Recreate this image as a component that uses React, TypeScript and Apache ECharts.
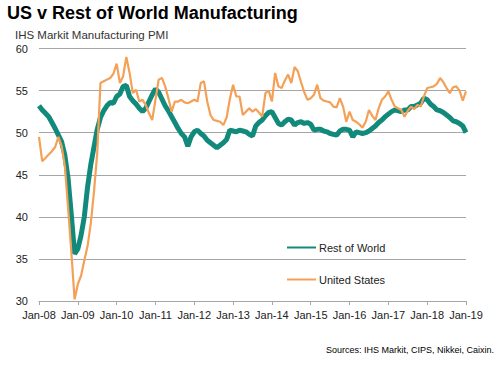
import React, { useEffect, useRef } from "react";
import * as echarts from "echarts";

const MONTHS = ["Jan", "Feb", "Mar", "Apr", "May", "Jun", "Jul", "Aug", "Sep", "Oct", "Nov", "Dec"];
const YEARS = ["08", "09", "10", "11", "12", "13", "14", "15", "16", "17", "18", "19"];
const categories: string[] = [];
YEARS.forEach((y) => MONTHS.forEach((m) => categories.push(`${m}-${y}`)));
categories.length = 133; // Jan-08 .. Jan-19

const restOfWorld = [
  53.2, 52.7, 52.3, 51.9, 51.2, 50.5, 49.7, 48.9, 47.3, 44.5, 40.2, 35.6,
  36.2, 37.8, 40.0, 43.5, 46.2, 48.3, 50.4, 51.8, 52.6, 53.2, 53.6, 53.5,
  54.3, 54.6, 55.5, 55.6, 54.3, 53.8, 53.4, 52.9, 52.5, 52.9, 53.7, 54.5,
  55.2, 54.8, 54.0, 53.2, 52.6, 51.9, 51.2, 50.5, 49.9, 49.5, 48.4, 49.5,
  50.1, 50.3, 49.9, 49.6, 49.1, 48.8, 48.5, 48.2, 48.5, 48.8, 49.2, 50.3,
  50.2, 50.1, 50.3, 50.2, 50.1, 49.8, 49.6, 50.8, 51.2, 51.5, 52.0, 52.4,
  52.5, 51.8, 51.1, 50.9, 51.3, 51.6, 51.5, 50.9, 51.2, 51.3, 51.1, 51.2,
  51.0, 50.3, 50.4, 50.4, 50.2, 50.1, 49.9, 49.8, 49.7, 50.2, 50.4, 50.4,
  50.3, 49.5, 50.1, 50.0, 49.9, 50.0, 50.2, 50.5, 50.8, 51.2, 51.5, 51.9,
  52.2, 52.5, 52.7, 52.6, 52.5, 52.7, 52.7, 53.1, 53.1, 53.3, 53.5, 54.1,
  53.9, 53.4, 53.1, 52.7, 52.6, 52.4, 52.1, 51.8, 51.4, 51.3, 51.1, 50.8,
  50.0,
];

const unitedStates = [
  49.5, 46.6, 47.0, 47.4, 47.8, 48.3, 49.5, 48.4, 46.0, 41.0, 35.8, 30.2,
  32.0, 33.0, 34.8, 36.5, 39.2, 43.0, 47.6, 55.9, 56.1, 56.3, 56.5, 57.0,
  58.2, 55.9, 56.7, 59.0, 57.1, 54.7, 55.1, 53.7, 53.9, 53.3, 52.3, 51.5,
  53.9, 56.3, 56.5, 55.5, 54.1, 52.5, 53.7, 53.7, 53.9, 53.6, 53.5, 53.7,
  53.9, 53.7, 55.9, 56.1, 53.7, 52.1, 51.5, 51.4, 51.3, 50.9, 51.8, 54.0,
  55.7, 54.3, 54.3, 52.1, 52.5, 52.9, 52.5, 52.8, 52.4, 51.9, 54.7, 55.0,
  53.7, 57.1, 55.5, 55.3, 56.2, 56.9, 55.9, 57.8, 57.3, 56.0, 54.8, 53.9,
  54.1, 54.5, 55.7, 54.1, 53.8, 53.7, 53.6, 53.1, 53.0, 54.1, 53.1, 51.3,
  52.5, 51.5, 51.3, 51.0, 50.6, 51.3, 52.7, 52.0, 51.5, 52.9, 53.9, 54.3,
  54.9, 53.9, 53.1, 52.9, 52.7, 51.9, 52.6, 53.1, 52.8, 53.3, 53.1, 54.3,
  55.3, 55.4, 55.5, 55.8, 56.5, 56.0, 55.3, 54.7, 55.4, 55.5, 55.0, 53.8,
  54.9,
];

const TITLE = "US v Rest of World Manufacturing";
const SUBTITLE = "IHS Markit Manufacturing PMI";
const SOURCE = "Sources: IHS Markit, CIPS, Nikkei, Caixin.";

const FONT = "'Liberation Sans', Arial, sans-serif";
const TEAL = "#128a7b";
const ORANGE = "#f5a057";
const GRID = "#a6a6a6";

export default function App() {
  const ref = useRef<HTMLDivElement>(null);
  useEffect(() => {
    if (!ref.current) return;
    const chart = echarts.init(ref.current, undefined, { renderer: "svg" });
    chart.setOption({
      animation: false,
      backgroundColor: "#ffffff",
      textStyle: { fontFamily: FONT },
      title: [
        {
          text: TITLE,
          left: 7,
          top: 4,
          padding: 0,
          textStyle: { fontFamily: FONT, fontSize: 18, fontWeight: "bold", color: "#000" },
        },
        {
          text: SUBTITLE,
          left: 15,
          top: 29,
          padding: 0,
          textStyle: { fontFamily: FONT, fontSize: 11.5, fontWeight: "normal", color: "#333" },
        },
        {
          text: SOURCE,
          right: 8,
          top: 345,
          padding: 0,
          textStyle: { fontFamily: FONT, fontSize: 9, fontWeight: "normal", color: "#000" },
        },
      ],
      legend: {
        orient: "vertical",
        left: 281,
        top: 237,
        itemWidth: 29,
        itemHeight: 12,
        itemGap: 21,
        itemStyle: { opacity: 0 },
        textStyle: { fontFamily: FONT, fontSize: 11, color: "#222", padding: [0, 0, 0, -2] },
        data: ["Rest of World", "United States"],
      },
      grid: { left: 39, right: 36, top: 48.5, bottom: 64, containLabel: false },
      xAxis: {
        type: "category",
        data: categories,
        boundaryGap: false,
        axisLine: { show: true, lineStyle: { color: GRID, width: 1 } },
        axisTick: { show: true, interval: 11, length: 4, lineStyle: { color: GRID } },
        axisLabel: {
          interval: 11,
          fontFamily: FONT,
          fontSize: 11,
          color: "#222",
          margin: 8,
        },
        splitLine: { show: false },
      },
      yAxis: {
        type: "value",
        min: 30,
        max: 60,
        interval: 5,
        axisLine: { show: false },
        axisTick: { show: false },
        axisLabel: { fontFamily: FONT, fontSize: 11, color: "#222", margin: 11 },
        splitLine: { show: true, lineStyle: { color: GRID, width: 1 } },
      },
      series: [
        {
          name: "Rest of World",
          type: "line",
          data: restOfWorld,
          symbol: "none",
          z: 2,
          lineStyle: { color: TEAL, width: 5 },
          itemStyle: { color: TEAL },
        },
        {
          name: "United States",
          type: "line",
          data: unitedStates,
          symbol: "none",
          z: 3,
          lineStyle: { color: ORANGE, width: 2.2 },
          itemStyle: { color: ORANGE },
        },
      ],
    });
    return () => chart.dispose();
  }, []);
  return <div ref={ref} style={{ width: 502, height: 365, position: "absolute", left: 0, top: 0 }} />;
}
